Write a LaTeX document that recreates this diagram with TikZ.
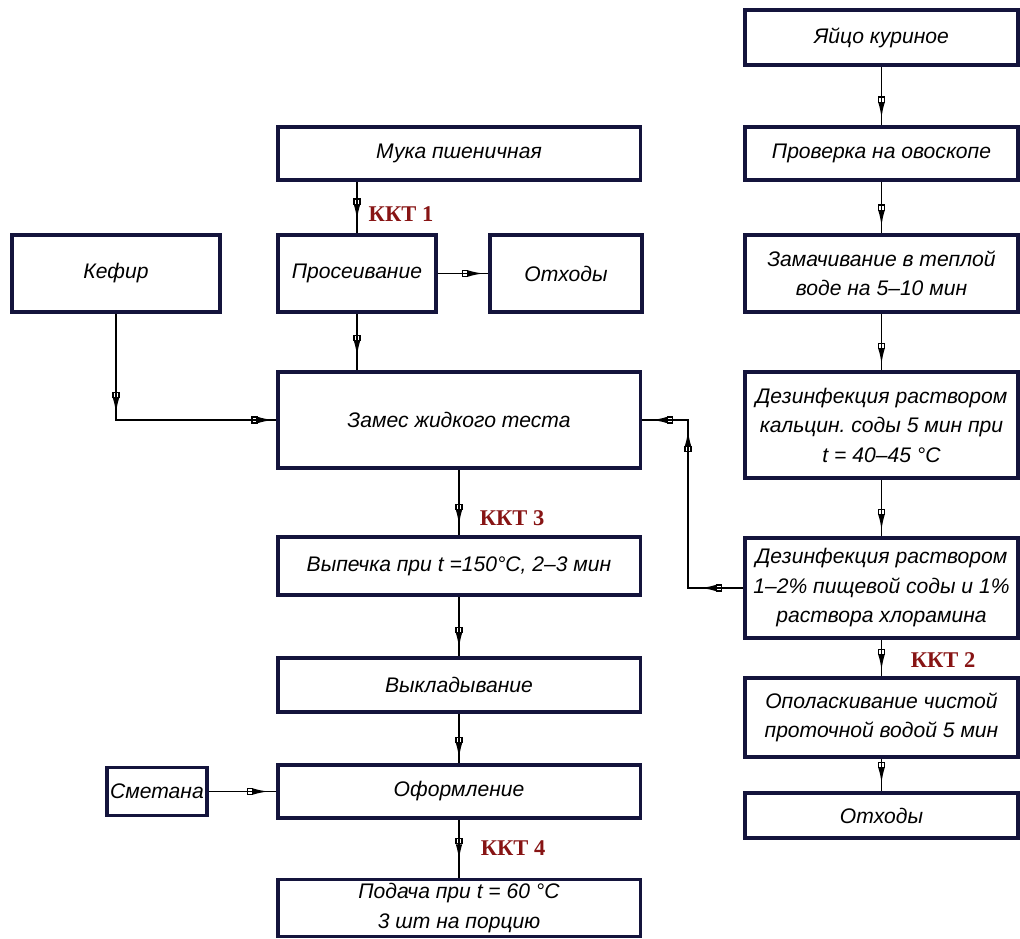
\documentclass[tikz,border=0pt]{standalone}
\usepackage{fontspec}
\setmainfont{Liberation Sans}
\newfontfamily\kktfont{Liberation Serif}
\usetikzlibrary{arrows.meta,decorations.markings,calc}
\definecolor{boxline}{RGB}{20,20,60}
\definecolor{kktred}{RGB}{135,20,20}
\tikzset{
  flow/.tip={Rectangle[open,length=4.5pt,width=5pt,line width=0.9pt] Latex[length=11pt,width=4.5pt]},
  box/.style={draw=boxline, line width=2.2pt, inner sep=2pt, align=center,
    font=\fontsize{15}{21}\selectfont\itshape},
  lcol/.style={minimum width=9.05cm},
  rcol/.style={minimum width=6.825cm},
  link/.style={line width=1.1pt},
  feed/.style={postaction={decorate,decoration={markings,
    mark=at position #1 with {\arrow{flow}}}}},
  kkt/.style={text=kktred, font=\fontsize{16}{18}\selectfont\kktfont\bfseries},
}
\begin{document}
\begin{tikzpicture}[x=0.025cm, y=-0.025cm]
    \useasboundingbox (0,0) rectangle (1020,939);
    % left column
    \node[box, lcol, minimum height=1.325cm] (muka) at (459,153.5) {Мука пшеничная};
    \node[box, minimum width=3.95cm, minimum height=1.925cm] (sift) at (357,273.5) {Просеивание};
    \node[box, minimum width=3.8cm, minimum height=1.925cm] (waste) at (566,273.5) {Отходы};
    \node[box, minimum width=5.2cm, minimum height=1.925cm] (kefir) at (116,273.5) {Кефир};
    \node[box, lcol, minimum height=2.4cm] (dough) at (459,420) {Замес жидкого теста};
    \node[box, lcol, minimum height=1.45cm] (bake) at (459,566) {Выпечка при t =150°C, 2–3 мин};
    \node[box, lcol, minimum height=1.35cm] (lay) at (459,685) {Выкладывание};
    \node[box, lcol, minimum height=1.325cm] (decor) at (459,791.5) {Оформление};
    \node[box, minimum width=2.5cm, minimum height=1.2cm] (cream) at (157,791.5) {Сметана};
    \node[box, lcol, minimum height=1.425cm] (serve) at (459,908) {Подача при t = 60 °C\\3 шт на порцию};
    % right column
    \node[box, rcol, minimum height=1.375cm] (egg) at (881.5,37.5) {Яйцо куриное};
    \node[box, rcol, minimum height=1.325cm] (ovo) at (881.5,153.5) {Проверка на овоскопе};
    \node[box, rcol, minimum height=1.925cm] (soak) at (881.5,273.5) {Замачивание в теплой\\воде на 5–10 мин};
    \node[box, rcol, minimum height=2.65cm] (dis1) at (881.5,425) {Дезинфекция раствором\\кальцин.\ соды 5 мин при\\t = 40–45 °C};
    \node[box, rcol, minimum height=2.5cm] (dis2) at (881.5,588) {Дезинфекция раствором\\1–2\% пищевой соды и 1\%\\раствора хлорамина};
    \node[box, rcol, minimum height=1.975cm] (rinse) at (881.5,717.5) {Ополаскивание чистой\\проточной водой 5 мин};
    \node[box, rcol, minimum height=1.125cm] (waste2) at (881.5,815.5) {Отходы};
    % connectors
    \draw[link, feed=-0.33cm] (sift.north |- muka.south) -- (sift.north);
    \draw[link, feed=-0.12cm] (sift.east) -- (waste.west);
    \draw[link, feed=-0.35cm] (sift.south) -- (dough.north -| sift.south);
    \draw[link, feed=2.5cm, feed=-0.08cm] (kefir.south) -- (kefir.south |- dough.west) -- (dough.west);
    \draw[link, feed=-0.25cm] (dough.south) -- (bake.north);
    \draw[link, feed=-0.2cm] (bake.south) -- (lay.north);
    \draw[link, feed=-0.12cm] (lay.south) -- (decor.north);
    \draw[link, feed=-0.2cm] (cream.east) -- (decor.west);
    \draw[link, feed=-0.45cm] (decor.south) -- (serve.north);
    \draw[link, feed=-0.18cm] (egg.south) -- (ovo.north);
    \draw[link, feed=-0.18cm] (ovo.south) -- (soak.north);
    \draw[link, feed=-0.15cm] (soak.south) -- (dis1.north);
    \draw[link, feed=-0.15cm] (dis1.south) -- (dis2.north);
    \coordinate (bend) at (688,598);
    \draw[link, feed=1.075cm, feed=5.325cm, feed=-0.25cm] (dis2.west) -- (dis2.west -| bend) -- (bend |- dough.east) -- (dough.east);
    \draw[link, feed=-0.15cm] (dis2.south) -- (rinse.north);
    \draw[link, feed=-0.2cm] (rinse.south) -- (waste2.north);
    % control points
    \node[kkt] (k1) at (401,214) {ККТ 1};
    \node[kkt] (k3) at (512,518) {ККТ 3};
    \node[kkt] (k2) at (943,660) {ККТ 2};
    \node[kkt] (k4) at (513,848) {ККТ 4};
  \end{tikzpicture}
\end{document}
